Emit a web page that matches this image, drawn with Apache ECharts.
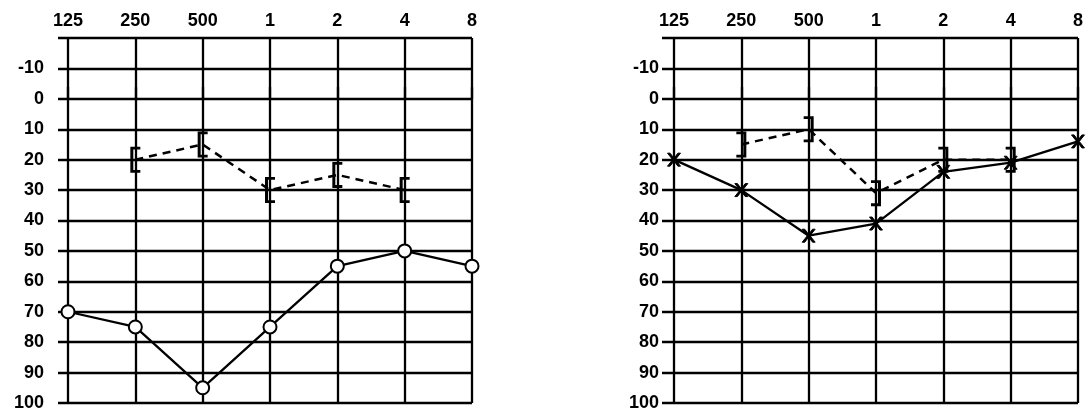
<!DOCTYPE html>
<html>
<head>
<meta charset="utf-8">
<script src="https://cdn.jsdelivr.net/npm/echarts@6/dist/echarts.min.js"></script>
<style>
html,body{margin:0;padding:0;background:#fff;}
#c{width:1086px;height:412px;}
</style>
</head>
<body>
<div id="c"></div>
<script>
// Frequencies (Hz / kHz) shown on top axis
var freqLabels = ['125', '250', '500', '1', '2', '4', '8'];
// dB hearing level scale
var dbMin = -20, dbMax = 100, dbStep = 10;

// Left audiogram
var leftAir  = [70, 75, 95, 75, 55, 50, 55];        // solid, circles
var leftBone = [null, 20, 15, 30, 25, 30, null];     // dashed, "[" brackets

// Right audiogram
var rightAir  = [20, 30, 45, 41, 24, 21, 14];        // solid, crosses
var rightBone = [null, 15, 10, 31, 20, 20, null];    // dashed, "]" brackets

var FONT = '"Liberation Sans", Arial, sans-serif';
var INK = '#000';

var bracketL = 'path://M0,0 H10 V3 H3 V25 H10 V28 H0 Z';
var bracketR = 'path://M0,0 H10 V28 H0 V25 H7 V3 H0 Z';
var cross = 'path://M0,0 L2,0 L5,4 L8,0 L10,0 L6,5 L10,10 L8,10 L5,6 L2,10 L0,10 L4,5 Z';

var panels = [
  {outerLeft: 58, innerLeft: 68, right: 472, labelMargin: 14, air: leftAir, bone: leftBone, airSym: 'emptyCircle', airSize: 13, boneSym: bracketL},
  {outerLeft: 662, innerLeft: 674, right: 1078, labelMargin: 3, air: rightAir, bone: rightBone, airSym: cross, airSize: 13, boneSym: bracketR}
];

var TOP = 38, BOTTOM = 403;
var grids = [], xAxes = [], yAxes = [], series = [];

panels.forEach(function (p, i) {
  var gOuter = grids.length;
  grids.push({left: p.outerLeft, top: TOP, width: p.right - p.outerLeft, height: BOTTOM - TOP});
  var gInner = grids.length;
  grids.push({left: p.innerLeft, top: TOP, width: p.right - p.innerLeft, height: BOTTOM - TOP});

  // outer grid: horizontal lines + dB labels
  xAxes.push({gridIndex: gOuter, type: 'value', min: 0, max: 1, show: false});
  yAxes.push({
    gridIndex: gOuter, type: 'value', inverse: true, min: dbMin, max: dbMax, interval: dbStep,
    axisLine: {show: false}, axisTick: {show: false},
    splitLine: {show: true, lineStyle: {color: INK, width: 2.3}},
    axisLabel: {
      margin: p.labelMargin, color: INK, fontSize: 18, fontFamily: FONT, fontWeight: 'bold',
      padding: [0, 0, 12, 0],
      formatter: function (v) { return v === dbMin ? '' : String(v); }
    }
  });

  // inner grid: frequency lines + labels, data series
  xAxes.push({
    gridIndex: gInner, type: 'category', data: freqLabels, boundaryGap: false, position: 'top',
    axisLine: {show: false},
    axisTick: {show: true, inside: false, length: 12, interval: 0, lineStyle: {color: INK, width: 2.3}},
    splitLine: {show: true, interval: 0, lineStyle: {color: INK, width: 2.3}},
    axisLabel: {interval: 0, margin: 8, color: INK, fontSize: 18, fontFamily: FONT, fontWeight: 'bold'}
  });
  yAxes.push({gridIndex: gInner, type: 'value', inverse: true, min: dbMin, max: dbMax, interval: dbStep, show: false});

  var xi = xAxes.length - 1, yi = yAxes.length - 1;
  var isCircle = p.airSym === 'emptyCircle';
  series.push({
    type: 'line', xAxisIndex: xi, yAxisIndex: yi, data: p.air, clip: false,
    symbol: p.airSym, symbolSize: p.airSize, showAllSymbols: true,
    lineStyle: {color: INK, width: 2.3},
    itemStyle: {color: INK, borderColor: INK, borderWidth: isCircle ? 2 : 1},
    z: 5, animation: false
  });
  series.push({
    type: 'line', xAxisIndex: xi, yAxisIndex: yi, data: p.bone, clip: false, connectNulls: false,
    symbol: p.boneSym, symbolSize: [10, 26], showAllSymbols: true,
    lineStyle: {color: INK, width: 2.5, type: [8, 6]},
    itemStyle: {color: INK, borderWidth: 0},
    z: 5, animation: false
  });
});

var chart = echarts.init(document.getElementById('c'), null, {renderer: 'canvas'});
chart.setOption({
  backgroundColor: '#fff',
  animation: false,
  grid: grids,
  xAxis: xAxes,
  yAxis: yAxes,
  series: series
});
</script>
</body>
</html>
